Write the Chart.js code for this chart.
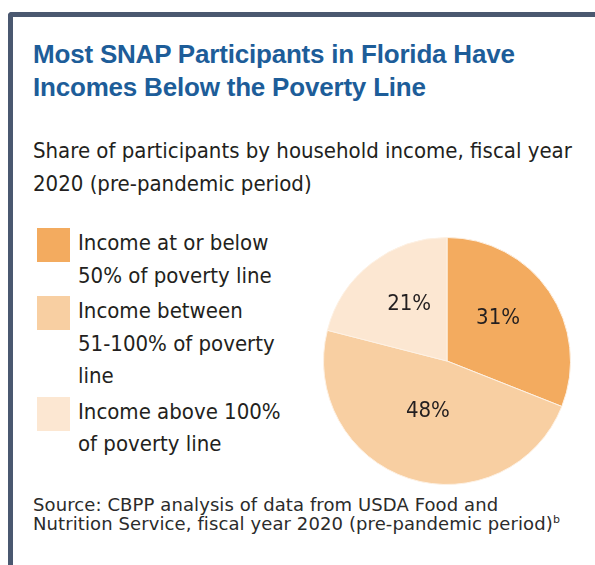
<!DOCTYPE html>
<html>
<head>
<meta charset="utf-8">
<script src="https://cdn.jsdelivr.net/npm/chart.js@4"></script>
<style>
  body { margin: 0; width: 595px; height: 565px; overflow: hidden; background: #fff; position: relative;
         font-family: "DejaVu Sans Condensed", "Liberation Sans", Arial, sans-serif; color: #231f20; }
  #frame { position: absolute; left: 8px; top: 12px; width: 600px; height: 560px;
           border-left: 5px solid #4a5870; border-top: 5px solid #4a5870; border-top-left-radius: 4px; }
  #title { position: absolute; left: 33px; top: 38px; font-family: "Liberation Sans", Arial, sans-serif;
           font-weight: bold; font-size: 26px; line-height: 33px; color: #1d5d99; letter-spacing: -0.2px; white-space: nowrap; }
  #subtitle { position: absolute; left: 33px; top: 134px; font-size: 22px; line-height: 33px; white-space: nowrap; }
  #legend { position: absolute; left: 37px; top: 227px; }
  .item { display: flex; margin-bottom: 3px; }
  .swatch { width: 33px; height: 34px; margin-top: 1px; margin-right: 8px; flex: none; }
  .txt { font-size: 22px; line-height: 32.5px; white-space: nowrap; }
  #pie { position: absolute; left: 323px; top: 237px; width: 248px; height: 248px; }
  #source { position: absolute; left: 33px; top: 495px; font-family: "DejaVu Sans", Arial, sans-serif;
            font-size: 18px; line-height: 19px; color: #2b2b2b; letter-spacing: 0.1px; white-space: nowrap; }
  #source sup { font-size: 11px; line-height: 0; }
</style>
</head>
<body>
<div id="frame"></div>
<div id="title">Most SNAP Participants in Florida Have<br>Incomes Below the Poverty Line</div>
<div id="subtitle">Share of participants by household income, fiscal year<br>2020 (pre-pandemic period)</div>
<div id="legend"></div>
<div id="pie"><canvas id="pieChart"></canvas></div>
<div id="source">Source: CBPP analysis of data from USDA Food and<br>Nutrition Service, fiscal year 2020 (pre-pandemic period)<sup>b</sup></div>

<script>
// Data
var categories = [
    ["Income at or below", "50% of poverty line"],
    ["Income between", "51-100% of poverty", "line"],
    ["Income above 100%", "of poverty line"]
];
var shares = [31, 48, 21];
var colors = ["#f3ab5f", "#f8cfa2", "#fce7d2"];

// HTML legend built from the arrays
var legend = document.getElementById('legend');
for (var i = 0; i < categories.length; i++) {
    var item = document.createElement('div');
    item.className = 'item';
    var sw = document.createElement('div');
    sw.className = 'swatch';
    sw.style.backgroundColor = colors[i];
    var txt = document.createElement('div');
    txt.className = 'txt';
    txt.innerHTML = categories[i].join('<br>');
    item.appendChild(sw);
    item.appendChild(txt);
    legend.appendChild(item);
}

// percent labels inside the slices
const sliceLabels = {
    id: 'sliceLabels',
    afterDatasetsDraw(chart) {
        const ctx = chart.ctx;
        const meta = chart.getDatasetMeta(0);
        ctx.save();
        ctx.font = '22px "DejaVu Sans Condensed", "Liberation Sans", sans-serif';
        ctx.fillStyle = '#231f20';
        ctx.textAlign = 'center';
        ctx.textBaseline = 'middle';
        meta.data.forEach(function(arc, i) {
            var p = arc.tooltipPosition();
            ctx.fillText(shares[i] + '%', p.x, p.y - 8);
        });
        ctx.restore();
    }
};

const ctx = document.getElementById('pieChart').getContext('2d');
const pieChart = new Chart(ctx, {
    type: 'pie',
    data: {
        labels: categories,
        datasets: [{
            data: shares,
            backgroundColor: colors,
            borderColor: '#fdf1e4',
            borderWidth: 1
        }]
    },
    options: {
        responsive: true,
        maintainAspectRatio: false,
        animation: false,
        layout: { padding: 0 },
        plugins: {
            legend: { display: false },
            tooltip: { enabled: false }
        }
    },
    plugins: [sliceLabels]
});
</script>
</body>
</html>
